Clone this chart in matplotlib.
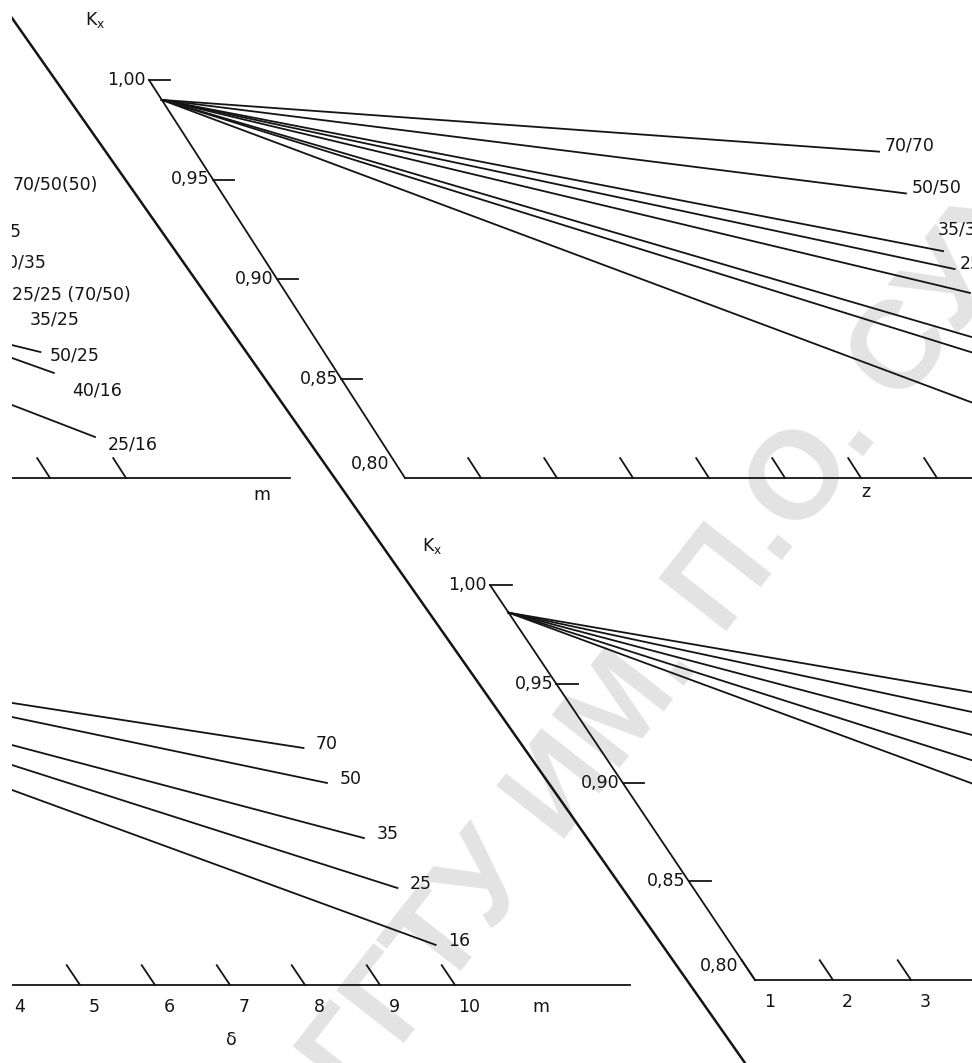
import numpy as np
import matplotlib
matplotlib.use("Agg")
import matplotlib.pyplot as plt
from matplotlib.transforms import Affine2D

# K_x scale (slanted)
k_ticks = [1.00, 0.95, 0.90, 0.85, 0.80]
k_labels = ["1,00", "0,95", "0,90", "0,85", "0,80"]

# upper right block: lines from the pivot on the K_x scale to z = 10
top_pivot_z, top_pivot_k = 1.0, 0.99
top_end_z = 10.0
top_end_k = [0.964, 0.943, 0.914, 0.905, 0.893, 0.866, 0.856, 0.821]
top_names = ["70/70", "50/50", "35/35", "25/25", "35/25", "50/25", "40/16", "25/16"]
top_name_dk = [0.003, 0.003, 0.011, 0.003, 0.003, 0.003, 0.003, 0.003]
top_z_ticks = [2, 3, 4, 5, 6, 7, 8]

# upper left block (end of the previous block)
tl_start_z = [0.618, 1.125, 1.016]
tl_start_k = [0.8367, 0.8668, 0.8603]
tl_end_z = 1.44
tl_end_k = [0.8206, 0.8633, 0.8528]
tl_names = ["70/50(50)", "35", "50/35", "25/25 (70/50)", "35/25", "50/25", "40/16", "25/16"]
tl_name_z = [2.48, 1.92, 1.63, 1.55, 1.57, 1.54, 1.53, 1.54]
tl_name_k = [0.947, 0.9236, 0.9085, 0.892, 0.8794, 0.8618, 0.8442, 0.8166]
tl_z_ticks = [0.5, 1.5]

# lower left block
bl_start_z = [6.62, 6.49, 6.24, 6.06, 5.84]
bl_start_k = [0.9428, 0.9357, 0.9215, 0.9114, 0.8987]
bl_end_z = 10.1
bl_end_k = [0.920, 0.9023, 0.8744, 0.8491, 0.8203]
bl_names = ["70", "50", "35", "25", "16"]
bl_z_ticks = [4, 5, 6, 7, 8, 9, 10]

# lower right block
br_pivot_z, br_pivot_k = 1.0, 0.986
br_end_z = 10.0
br_end_k = [0.917, 0.897, 0.872, 0.842, 0.812]
br_z_ticks = [1, 2, 3, 4]

W, H = 972, 1063
fig = plt.figure(figsize=(W / 100, H / 100), dpi=100)
ax = fig.add_axes([12 / W, 0, (W - 12) / W, 1])
ax.set_xlim(12, W)
ax.set_ylim(H, 0)
ax.axis("off")


def sheet(x0, y0, z0, zstep, kdx, kdy):
    # (z, K) -> page position, K axis is slanted
    m = np.array([[zstep, kdx, x0 - zstep * z0 - kdx * 0.8],
                  [0.0, kdy, y0 - kdy * 0.8],
                  [0.0, 0.0, 1.0]])
    return Affine2D(m) + ax.transData


t_top = sheet(405, 478, 1, 76, -1280, -1990)
t_tl = sheet(12, 478, 0, 76, -1280, -1990)
t_br = sheet(755, 980, 1, 78, -1325, -1975)
t_bl = sheet(80, 985, 5, 75, -1325, -1975)

ink = "#141414"
lw = 1.3
lab = dict(color=ink, fontsize=12.5, family="DejaVu Sans", clip_on=True)

# watermark
ax.text(356, 1105, "ГГТУ ИМ. П.О. СУХОГО", rotation=52, rotation_mode="anchor",
        fontsize=90, fontweight="bold", family="Liberation Sans", color="#e3e3e3",
        ha="left", va="baseline", zorder=0)

# fold line of the sheet
fold_x, fold_y = [12, 745], [18, 1063]
ax.plot(fold_x, fold_y, color=ink, lw=1.8, zorder=3)


def k_scale(tr, z0, name_zk):
    ax.plot([z0, z0], [0.80, 1.00], color=ink, lw=lw, transform=tr)
    for k, s in zip(k_ticks, k_labels):
        if k > 0.8:
            ax.plot([z0, z0 + 0.28], [k, k], color=ink, lw=lw, transform=tr)
            ax.text(z0 - 0.04, k, s, ha="right", va="center", transform=tr, **lab)
        else:
            ax.text(z0 - 0.17, 0.8025, s, ha="right", va="bottom", transform=tr, **lab)
    ax.text(name_zk[0], name_zk[1], r"K$_{\mathrm{x}}$", ha="center", va="center",
            transform=tr, **lab)


def z_ticks(tr, zs, labels=None):
    for i, z in enumerate(zs):
        ax.plot([z, z], [0.80, 0.81], color=ink, lw=lw, transform=tr)
        if labels:
            ax.text(z, 0.789, labels[i], ha="center", va="center", transform=tr, **lab)


# upper right
k_scale(t_top, 1.0, (0.8, 1.03))
ax.plot([1.0, 10.0], [0.80, 0.80], color=ink, lw=lw, transform=t_top)
z_ticks(t_top, top_z_ticks)
ax.text(6.95, 0.793, "z", ha="center", va="center", transform=t_top, **lab)
for k, s, dk in zip(top_end_k, top_names, top_name_dk):
    ax.plot([top_pivot_z, top_end_z], [top_pivot_k, k], color=ink, lw=lw, transform=t_top)
    ax.text(top_end_z + 0.12, k + dk, s, ha="left", va="center", transform=t_top, **lab)

# upper left
ax.plot([0, 3.66], [0.80, 0.80], color=ink, lw=lw, transform=t_tl)
z_ticks(t_tl, tl_z_ticks)
ax.text(3.15, 0.7915, "m", ha="center", va="center", transform=t_tl, **lab)
for z0, k0, k1 in zip(tl_start_z, tl_start_k, tl_end_k):
    ax.plot([z0, tl_end_z], [k0, k1], color=ink, lw=lw, transform=t_tl)
for z, k, s in zip(tl_name_z, tl_name_k, tl_names):
    ax.text(z, k, s, ha="left", va="center", transform=t_tl, **lab)

# lower right
k_scale(t_br, 1.0, (0.6, 1.02))
ax.plot([1.0, 5.0], [0.80, 0.80], color=ink, lw=lw, transform=t_br)
z_ticks(t_br, br_z_ticks, [str(z) for z in br_z_ticks])
for k in br_end_k:
    ax.plot([br_pivot_z, br_end_z], [br_pivot_k, k], color=ink, lw=lw, transform=t_br)

# lower left
ax.plot([4.0, 12.33], [0.80, 0.80], color=ink, lw=lw, transform=t_bl)
z_ticks(t_bl, bl_z_ticks, [str(z) for z in bl_z_ticks])
ax.text(10.95, 0.789, "m", ha="center", va="center", transform=t_bl, **lab)
ax.text(6.53, 0.772, "δ", ha="center", va="center", transform=t_bl, **lab)
for z0, k0, k1, s in zip(bl_start_z, bl_start_k, bl_end_k, bl_names):
    ax.plot([z0, bl_end_z], [k0, k1], color=ink, lw=lw, transform=t_bl)
    ax.text(bl_end_z + 0.2, k1 + 0.002, s, ha="left", va="center", transform=t_bl, **lab)

fig.savefig("out.png", dpi=100)
